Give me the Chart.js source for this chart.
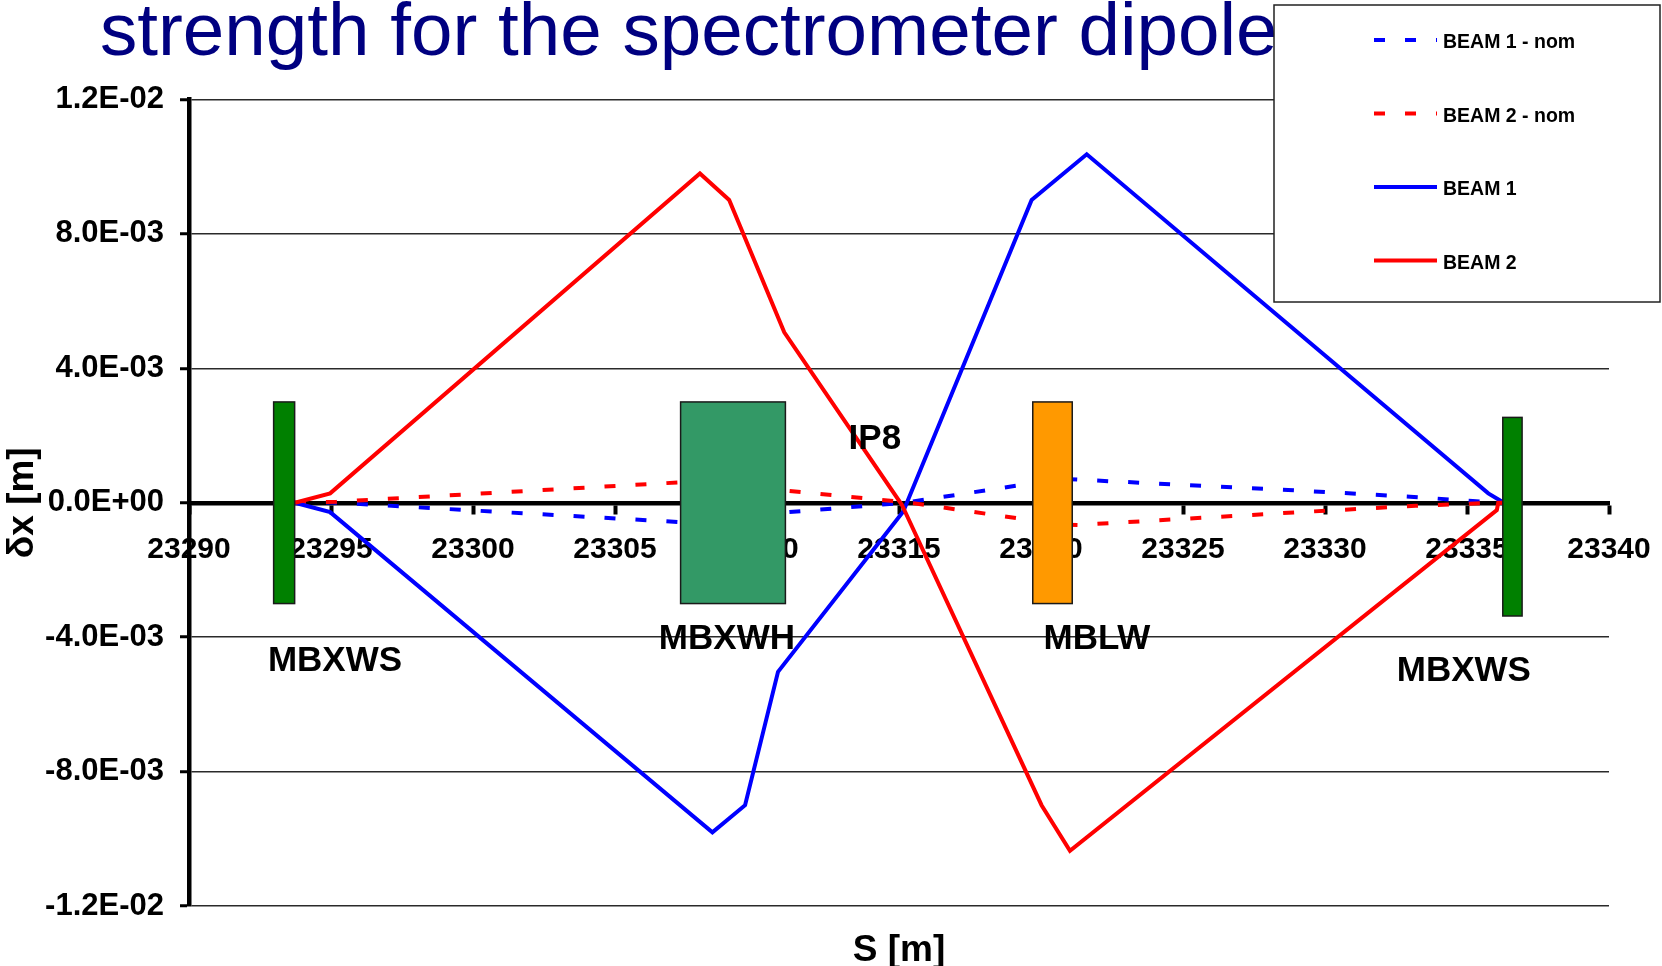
<!DOCTYPE html>
<html>
<head>
<meta charset="utf-8">
<title>Spectrometer dipole orbit</title>
<script src="https://cdn.jsdelivr.net/npm/chart.js@4.4.1/dist/chart.umd.min.js"></script>
<style>
  html, body { margin: 0; padding: 0; background: #fff; }
  #wrap { width: 1662px; height: 966px; position: relative; }
</style>
</head>
<body>
<div id="wrap"><canvas id="orbitChart"></canvas></div>
<script>
// S [m] and dx [m]
const beam1NomS = [23293.73, 23295.0, 23308.4, 23310.8, 23315.2, 23320.7, 23321.0, 23328.7, 23333.0, 23335.2, 23336.3, 23337.0];
const beam1NomX = [0, 0.00001, -0.00063, -0.0003, 0, 0.00071, 0.0007, 0.00038, 0.00018, 0.00005, 0, 0];
const beam2NomS = [23293.73, 23295.2, 23308.4, 23310.9, 23315.4, 23320.7, 23321.3, 23328.9, 23333.2, 23335.3, 23336.3, 23337.0];
const beam2NomX = [0, 0.00003, 0.00066, 0.00037, 0, -0.00065, -0.00066, -0.00029, -0.00009, -0.00002, 0, 0];
const beam1S = [23293.73, 23294.97, 23308.43, 23309.58, 23310.74, 23315.15, 23319.67, 23321.61, 23335.75, 23336.3];
const beam1X = [0, -0.00028, -0.00981, -0.009, -0.00503, -0.00026, 0.00901, 0.01037, 0.00028, 0];
const beam2S = [23293.73, 23294.97, 23307.99, 23309.02, 23310.96, 23315.1, 23320.02, 23321.02, 23336.05, 23336.1, 23336.3];
const beam2X = [0, 0.00028, 0.0098, 0.00901, 0.00507, -0.00006, -0.009, -0.01036, -0.00022, 0, 0];

// magnets: start / end in S, top / bottom in dx
const magnetStart = [23292.98, 23307.31, 23319.71, 23336.26];
const magnetEnd = [23293.72, 23311.0, 23321.1, 23336.94];
const magnetTop = [0.003, 0.003, 0.003, 0.00254];
const magnetBottom = [-0.003, -0.003, -0.003, -0.00337];
const magnetColors = ['#008000', '#339966', '#FF9900', '#008000'];

// text tags on the plot
const tagText = ['MBXWS', 'MBXWH', 'IP8', 'MBLW', 'MBXWS'];
const tagS = [23295.14, 23308.94, 23314.15, 23321.97, 23334.89];
const tagX = [-0.00473, -0.00406, 0.0019, -0.00406, -0.00503];

const sTicks = [23290, 23295, 23300, 23305, 23310, 23315, 23320, 23325, 23330, 23335, 23340];
const dxTicks = [-0.012, -0.008, -0.004, 0, 0.004, 0.008, 0.012];

const FONT = '"Liberation Sans", Arial, sans-serif';

function pts(s, v) {
    return s.map((x, i) => ({ x: x, y: v[i] }));
}

function sci(v) {
    if (Math.abs(v) < 1e-10) return '0.0E+00';
    const parts = v.toExponential(1).split('e');
    const exp = parts[1];
    return parts[0] + 'E' + exp[0] + exp.slice(1).padStart(2, '0');
}

const extras = {
    id: 'extras',
    beforeDraw(chart) {
        const ctx = chart.ctx;
        ctx.save();
        ctx.fillStyle = '#000080';
        ctx.font = '74.6px ' + FONT;
        ctx.textAlign = 'left';
        ctx.textBaseline = 'alphabetic';
        ctx.fillText('strength for the spectrometer dipole', 100, 55);
        ctx.restore();
    },
    afterDatasetsDraw(chart) {
        const ctx = chart.ctx;
        const xs = chart.scales.x, ys = chart.scales.y;
        ctx.save();
        magnetStart.forEach((s0, i) => {
            const x0 = xs.getPixelForValue(s0), x1 = xs.getPixelForValue(magnetEnd[i]);
            const y0 = ys.getPixelForValue(magnetTop[i]), y1 = ys.getPixelForValue(magnetBottom[i]);
            ctx.fillStyle = magnetColors[i];
            ctx.fillRect(x0, y0, x1 - x0, y1 - y0);
            ctx.strokeStyle = '#1a1a1a';
            ctx.lineWidth = 1.5;
            ctx.strokeRect(x0, y0, x1 - x0, y1 - y0);
        });
        ctx.fillStyle = '#000';
        ctx.font = 'bold 35px ' + FONT;
        ctx.textAlign = 'center';
        ctx.textBaseline = 'middle';
        tagText.forEach((t, i) => {
            ctx.fillText(t, xs.getPixelForValue(tagS[i]), ys.getPixelForValue(tagX[i]));
        });
        ctx.restore();
    },
    afterDraw(chart) {
        // boxed legend, top right
        const ctx = chart.ctx;
        ctx.save();
        ctx.fillStyle = '#fff';
        ctx.fillRect(1274, 5, 386, 297);
        ctx.strokeStyle = '#222';
        ctx.lineWidth = 1.5;
        ctx.strokeRect(1274, 5, 386, 297);
        ctx.font = 'bold 19.5px ' + FONT;
        ctx.textAlign = 'left';
        ctx.textBaseline = 'middle';
        chart.data.datasets.forEach((ds, i) => {
            const y = 40 + i * 73.5;
            ctx.strokeStyle = ds.borderColor;
            ctx.lineWidth = 4;
            ctx.lineCap = 'butt';
            ctx.setLineDash(ds.borderDash || []);
            ctx.beginPath();
            ctx.moveTo(1374, y);
            ctx.lineTo(1437, y);
            ctx.stroke();
            ctx.setLineDash([]);
            ctx.fillStyle = '#000';
            ctx.fillText(ds.label, 1443, y + 3);
        });
        ctx.restore();
    }
};

new Chart(document.getElementById('orbitChart'), {
    type: 'line',
    data: {
        datasets: [
            { label: 'BEAM 1 - nom', data: pts(beam1NomS, beam1NomX), borderColor: '#0000FF', borderDash: [11, 20], order: 3 },
            { label: 'BEAM 2 - nom', data: pts(beam2NomS, beam2NomX), borderColor: '#FF0000', borderDash: [11, 20], order: 2 },
            { label: 'BEAM 1', data: pts(beam1S, beam1X), borderColor: '#0000FF', order: 1 },
            { label: 'BEAM 2', data: pts(beam2S, beam2X), borderColor: '#FF0000', order: 0 },
        ],
    },
    options: {
        responsive: true,
        maintainAspectRatio: false,
        animation: false,
        events: [],
        layout: { padding: { top: 99.5, right: 53, left: 0, bottom: 0 } },
        elements: {
            line: { borderWidth: 4, tension: 0, fill: false, borderCapStyle: 'butt' },
            point: { radius: 0 },
        },
        plugins: {
            legend: { display: false },
            tooltip: { enabled: false },
        },
        scales: {
            x: {
                type: 'linear',
                position: { y: 0 },
                min: 23290,
                max: 23340,
                afterBuildTicks: s => { s.ticks = sTicks.map(v => ({ value: v })); },
                afterFit: s => { s.paddingLeft = 0; s.paddingRight = 0; },
                ticks: {
                    font: { family: FONT, size: 30, weight: 'bold' },
                    color: '#000',
                    padding: 20,
                    maxRotation: 0,
                    autoSkip: false,
                    callback: v => String(v),
                },
                grid: { drawOnChartArea: false, drawTicks: true, tickLength: 9, tickWidth: 4, tickColor: '#000' },
                border: { display: true, color: '#000', width: 4.5 },
            },
            x2: {
                type: 'linear',
                position: 'bottom',
                min: 23290,
                max: 23340,
                afterFit: s => { s.height = 60; },
                ticks: { display: false },
                grid: { display: false },
                border: { display: false },
                title: {
                    display: true,
                    text: 'S [m]',
                    color: '#000',
                    font: { family: FONT, size: 37, weight: 'bold', lineHeight: 0.8 },
                    padding: { top: 0, bottom: 0 },
                },
            },
            y: {
                type: 'linear',
                position: 'left',
                min: -0.012,
                max: 0.012,
                afterBuildTicks: s => { s.ticks = dxTicks.map(v => ({ value: v })); },
                afterFit: s => { s.width = 189; },
                ticks: {
                    font: { family: FONT, size: 31, weight: 'bold' },
                    color: '#000',
                    padding: 16,
                    callback: v => sci(v),
                },
                grid: { color: '#2a2a2a', lineWidth: 1.5, tickLength: 9, tickWidth: 3, tickColor: '#000' },
                border: { color: '#000', width: 4.5 },
                title: {
                    display: true,
                    text: 'δx [m]',
                    color: '#000',
                    font: { family: FONT, size: 37, weight: 'bold', lineHeight: 1 },
                    padding: { top: 4.5, bottom: 0 },
                },
            },
        },
    },
    plugins: [extras],
});
</script>
</body>
</html>
